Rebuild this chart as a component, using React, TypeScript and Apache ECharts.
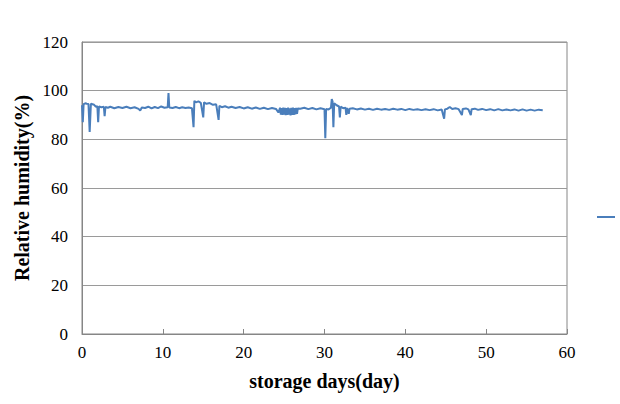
import React, { useEffect, useRef } from "react";
import * as echarts from "echarts";

const days: number[] = [
  0.0, 0.1, 0.2, 0.4, 0.6, 0.8, 0.95, 1.1, 1.3, 1.5, 1.7, 1.9, 2.0, 2.1, 2.4, 2.7, 2.8, 2.9, 3.2, 3.5,
  4.0, 4.5, 5.0, 5.5, 6.0, 6.5, 7.0, 7.2, 7.4, 7.8, 8.2, 8.6, 9.0, 9.4, 9.8, 10.2, 10.6, 10.7, 10.8,
  11.2, 11.6, 12.0, 12.4, 12.8, 13.2, 13.6, 13.8, 13.9, 14.1, 14.4, 14.7, 15.0, 15.1, 15.4, 15.8,
  16.2, 16.6, 16.9, 17.0, 17.3, 17.7, 18.1, 18.5, 19.0, 19.5, 20.0, 20.5, 21.0, 21.5, 22.0, 22.5,
  23.0, 23.5, 24.0, 24.3, 24.5, 24.6, 24.7, 24.8, 24.9, 25.0, 25.1, 25.2, 25.3, 25.4, 25.5, 25.6,
  25.7, 25.8, 25.9, 26.0, 26.1, 26.2, 26.3, 26.4, 26.5, 26.6, 26.7, 27.0, 27.5, 28.0, 28.5, 29.0,
  29.5, 30.0, 30.1, 30.2, 30.5, 30.8, 30.9, 31.0, 31.1, 31.2, 31.5, 31.8, 31.9, 32.0, 32.3, 32.6,
  32.7, 32.8, 33.0, 33.1, 33.5, 34.0, 34.5, 35.0, 35.5, 36.0, 36.5, 37.0, 37.5, 38.0, 38.5, 39.0,
  39.5, 40.0, 40.5, 41.0, 41.5, 42.0, 42.5, 43.0, 43.5, 44.0, 44.5, 44.8, 44.9, 45.2, 45.5, 45.8,
  46.2, 46.6, 47.0, 47.1, 47.5, 47.8, 48.1, 48.2, 48.6, 49.0, 49.5, 50.0, 50.5, 51.0, 51.5, 52.0,
  52.5, 53.0, 53.5, 54.0, 54.5, 55.0, 55.5, 56.0, 56.5, 57.0,
];

const humidity: number[] = [
  94.0, 87.0, 94.5, 94.8, 94.6, 94.5, 83.0, 94.6, 94.4, 94.2, 93.4, 93.6, 87.0, 93.5, 93.2, 93.4, 89.5, 93.3, 93.0, 93.4,
  92.8, 93.3, 92.9, 93.4, 92.8, 93.2, 92.5, 91.8, 93.1, 92.9, 93.4, 92.7, 93.3, 92.8, 93.5, 93.0, 93.2, 99.0, 93.1,
  92.9, 93.3, 92.8, 93.2, 92.9, 93.1, 92.8, 85.0, 95.8, 95.2, 95.6, 95.0, 89.0, 95.2, 94.6, 94.9,
  94.2, 94.4, 88.0, 93.8, 93.2, 93.6, 93.0, 93.4, 92.9, 93.3, 92.7, 93.2, 92.6, 93.1, 92.5, 93.0,
  92.4, 92.9, 92.5, 91.0, 93.0, 90.2, 92.8, 90.0, 93.0, 90.1, 92.9, 89.9, 92.8, 90.0, 93.0, 90.2,
  92.7, 89.8, 92.9, 90.0, 93.0, 90.1, 92.8, 90.3, 92.9, 90.5, 92.7, 92.6, 93.0, 92.4, 92.9, 92.3,
  92.8, 92.4, 80.5, 92.5, 92.3, 93.0, 96.5, 95.5, 85.0, 94.8, 94.0, 93.5, 89.0, 93.4, 92.8, 93.0,
  90.0, 92.9, 90.5, 92.6, 92.8, 92.3, 92.7, 92.2, 92.6, 92.1, 92.6, 92.2, 92.5, 92.1, 92.6, 92.2,
  92.5, 92.0, 92.5, 92.1, 92.4, 92.0, 92.4, 92.0, 92.4, 91.9, 92.3, 88.5, 92.3, 92.6, 93.3, 92.5,
  92.8, 92.4, 90.0, 92.5, 92.7, 92.3, 90.0, 92.4, 92.6, 92.1, 92.5, 92.0, 92.4, 91.9, 92.4, 91.9,
  92.3, 91.9, 92.3, 91.8, 92.3, 91.8, 92.2, 91.8, 92.2, 92.0,
];

const xTicks = { min: 0, max: 60, interval: 10 };
const yTicks = { min: 0, max: 120, interval: 20 };
const xName = "storage days(day)";
const yName = "Relative humidity(%)";

export default function App() {
  const ref = useRef<HTMLDivElement>(null);
  useEffect(() => {
    if (!ref.current) return;
    const chart = echarts.init(ref.current, null, { renderer: "svg" });
    const serif = "Times New Roman";
    const gray = "#868686";
    const tickFont = { fontFamily: serif, fontSize: 17, color: "#000", fontWeight: "normal" as const };
    chart.setOption({
      animation: false,
      backgroundColor: "#ffffff",
      textStyle: { fontFamily: serif },
      grid: {
        left: 82,
        right: 53,
        top: 42,
        bottom: 70,
        show: true,
        borderColor: gray,
        borderWidth: 1,
        containLabel: false,
      },
      legend: {
        show: true,
        left: 592,
        top: 207,
        icon: "rect",
        itemWidth: 18,
        itemHeight: 2,
        data: [" "],
        textStyle: { fontSize: 10 },
      },
      xAxis: {
        type: "value",
        ...xTicks,
        name: xName,
        nameLocation: "middle",
        nameGap: 37,
        nameTextStyle: { fontFamily: serif, fontWeight: "bold", fontSize: 20, color: "#000" },
        axisLine: { show: true, lineStyle: { color: gray, width: 1 } },
        axisTick: { show: true, inside: true, length: 5, lineStyle: { color: gray } },
        axisLabel: { ...tickFont, margin: 10 },
        splitLine: { show: false },
      },
      yAxis: {
        type: "value",
        ...yTicks,
        name: yName,
        nameLocation: "middle",
        nameGap: 46,
        nameTextStyle: { fontFamily: serif, fontWeight: "bold", fontSize: 20, color: "#000" },
        axisLine: { show: true, lineStyle: { color: gray, width: 1 } },
        axisTick: { show: false },
        axisLabel: { ...tickFont, margin: 14 },
        splitLine: { show: true, lineStyle: { color: "#9a9a9a", width: 1 } },
      },
      series: [
        {
          name: " ",
          type: "line",
          data: days.map((d, i) => [d, humidity[i]]),
          showSymbol: false,
          symbol: "none",
          lineStyle: { color: "#4a7ebb", width: 2 },
          itemStyle: { color: "#4a7ebb" },
        },
      ],
    });
    return () => chart.dispose();
  }, []);
  return (
    <div
      ref={ref}
      style={{ position: "fixed", left: 0, top: 0, width: 620, height: 404, background: "#fff" }}
    />
  );
}
